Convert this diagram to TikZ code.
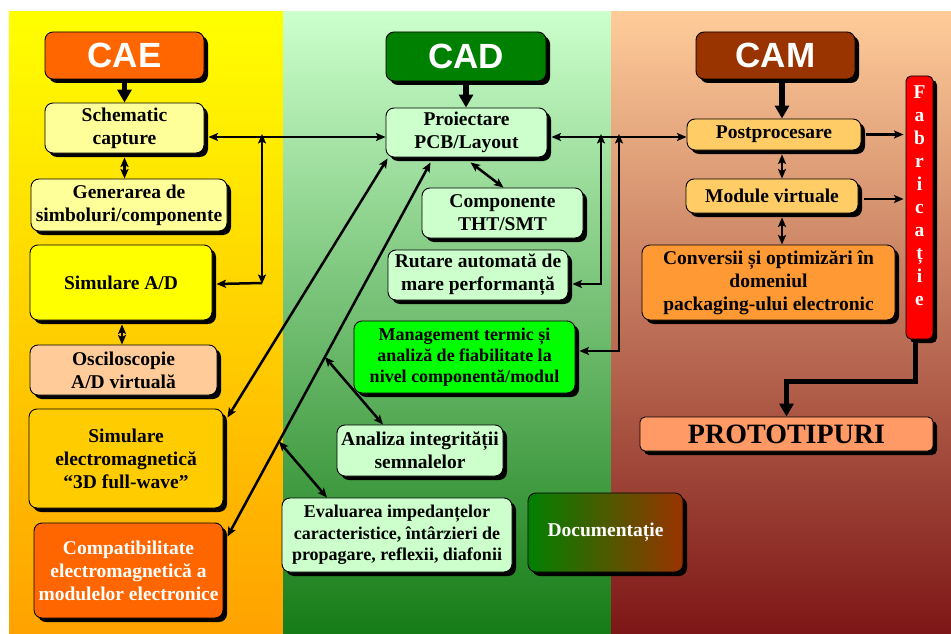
\documentclass[tikz,border=0pt]{standalone}
\usepackage{fontspec}
\setmainfont{Liberation Serif}
\newfontfamily\headfont{Liberation Sans}
\usetikzlibrary{shadows,arrows.meta,calc}
\definecolor{lTop}{RGB}{255,255,0}
\definecolor{lMid}{RGB}{255,212,0}
\definecolor{lBot}{RGB}{255,162,0}
\definecolor{mTop}{RGB}{204,255,204}
\definecolor{mMid}{RGB}{150,200,148}
\definecolor{mBot}{RGB}{22,124,22}
\definecolor{rTop}{RGB}{255,204,153}
\definecolor{rMid}{RGB}{214,156,118}
\definecolor{rBot}{RGB}{125,22,22}
\definecolor{caeC}{RGB}{255,102,0}
\definecolor{cadC}{RGB}{0,128,0}
\definecolor{camC}{RGB}{153,51,0}
\definecolor{paleY}{RGB}{255,255,153}
\definecolor{peach}{RGB}{255,204,153}
\definecolor{goldC}{RGB}{255,204,0}
\definecolor{paleG}{RGB}{204,255,204}
\definecolor{brightG}{RGB}{0,255,0}
\definecolor{lightO}{RGB}{255,204,102}
\definecolor{orangeC}{RGB}{255,153,51}
\definecolor{salmon}{RGB}{255,153,102}
\begin{document}
\begin{tikzpicture}[x=1pt,y=-1pt,
 box/.style={draw=black, line width=0.9pt, rounded corners=8pt, inner sep=0pt, align=center,
   font=\bfseries\fontsize{19.5}{23}\selectfont,
   drop shadow={shadow xshift=4pt, shadow yshift=-4pt, fill=black, opacity=1}},
 sz/.style 2 args={minimum width=#1pt, minimum height=#2pt},
 head/.style={box, text=white, font=\headfont\bfseries\fontsize{35}{40}\selectfont},
 smallfont/.style={font=\bfseries\fontsize{18}{21.3}\selectfont},
 dbl/.style={line width=2.5pt, {Stealth[length=9.5pt,width=8pt,inset=2pt]}-{Stealth[length=9.5pt,width=8pt,inset=2pt]}},
 sgl/.style={line width=2.5pt, -{Stealth[length=9.5pt,width=8pt,inset=2pt]}},
 big/.style={line width=5.5pt, -{Triangle[length=13pt,width=14pt]}}
]
\useasboundingbox (0,0) rectangle (951,634);
\shade[top color=lTop, middle color=lMid, bottom color=lBot] (9,12) rectangle (283,634);
\shade[top color=mTop, middle color=mMid, bottom color=mBot] (283,12) rectangle (611,634);
\shade[top color=rTop, middle color=rMid, bottom color=rBot] (611,12) rectangle (951,634);

% headers
\node[head, fill=caeC, sz={159}{47}] (CAE) at (124.5,55.5) {CAE};
\node[head, fill=cadC, sz={160}{49}] (CAD) at (466,56.5) {CAD};
\node[head, fill=camC, sz={159}{47}] (CAM) at (775.5,55.5) {CAM};

% CAE column
\node[box, fill=paleY, sz={159}{50}] (sch) at (124.5,128) {Schematic\\capture};
\node[box, fill=paleY, sz={196}{52}] (gen) at (129,205) {Generarea de\\simboluri/componente};
\node[box, fill=lTop, sz={182}{75}] (simAD) at (121,282.5) {Simulare A/D};
\node[box, fill=peach, sz={187}{50}] (osc) at (123.5,370) {Osciloscopie\\A/D virtuală};
\node[box, fill=goldC, sz={194}{99}] (simEM) at (126,458.5) {Simulare\\electromagnetică\\“3D full-wave”};
\node[box, fill=caeC, text=white, sz={189}{95}] (compat) at (128.5,570.5) {Compatibilitate\\electromagnetică a\\modulelor electronice};

% CAD column
\node[box, fill=paleG, sz={161}{49}] (proi) at (466.5,132.5) {Proiectare\\PCB/Layout};
\node[box, fill=paleG, sz={161}{50}] (comp) at (502.5,213) {Componente\\THT/SMT};
\node[box, fill=paleG, sz={180}{50}] (rut) at (478,275) {Rutare automată de\\mare performanță};
\node[box, smallfont, fill=brightG, sz={221}{72}] (mgmt) at (464.5,357) {Management termic și\\analiză de fiabilitate la\\nivel componentă/modul};
\node[box, fill=paleG, sz={166}{51}] (anal) at (420,450.5) {Analiza integrității\\semnalelor};
\node[box, smallfont, fill=paleG, sz={230}{74}] (eval) at (397,535) {Evaluarea impedanțelor\\caracteristice, întârzieri de\\propagare, reflexii, diafonii};
\node[box, left color=cadC, right color=camC, text=white, sz={155}{79}] (doc) at (605.5,532.5) {Documentație};

% CAM column
\node[box, fill=lightO, sz={174}{31}] (post) at (774,134.5) {Postprocesare};
\node[box, fill=lightO, sz={172}{34}] (modv) at (772,196) {Module virtuale};
\node[box, fill=orangeC, sz={253}{75}] (conv) at (768.5,282.5) {Conversii și optimizări în\\domeniul\\packaging-ului electronic};
\node[box, fill=red, rounded corners=5pt, sz={27}{263}] (fab) at (919.5,207.5) {};
\node[text=white, align=center, inner sep=0pt, font=\bfseries\fontsize{19.5}{23}\selectfont] (fabt) at (919.5,196) {F\\a\\b\\r\\i\\c\\a\\ț\\i\\e};
\node[box, fill=salmon, rounded corners=5pt, font=\bfseries\fontsize{28}{32}\selectfont, sz={293}{34}] (proto) at (786.5,434) {PROTOTIPURI};

% coordinates of the buses
\coordinate (busL) at (262,137);
\coordinate (turnL) at (262,284);
\coordinate (busR) at (601,137);
\coordinate (turnR) at (601,284);
\coordinate (busR2) at (619,137);
\coordinate (turnR2) at (619,351);

% thick arrows
\draw[big] ([yshift=-4pt]CAE.south) -- (CAE.south |- sch.north);
\draw[big] ([yshift=-4pt]CAD.south) -- (CAD.south |- proi.north);
\draw[big] ([shift={(6.5pt,-4pt)}]CAM.south) -- ([xshift=6.5pt]CAM.south |- post.north);
\draw[line width=5.5pt, -{Triangle[length=13pt,width=14pt]}] ([shift={(-4pt,-2pt)}]fab.south) -- ++(0,40) -| (proto.north);

% vertical short links
\draw[dbl] ([yshift=-4pt]sch.south) -- (sch.south |- gen.north);
\draw[dbl] ([shift={(1pt,-4pt)}]simAD.south) -- ([xshift=1pt]simAD.south |- osc.north);
\draw[dbl] ([shift={(8pt,-4pt)}]post.south) -- ([xshift=8pt]post.south |- modv.north);
\draw[dbl] ([shift={(10pt,-4pt)}]modv.south) -- ([xshift=10pt]modv.south |- conv.north);

% buses
\draw[dbl] ([xshift=4pt]sch.east |- busL) -- (proi.west |- busL);
\draw[dbl] ([yshift=3pt]busL) -- (turnL);
\draw[sgl] ([yshift=1pt]turnL) -- ([xshift=4pt]simAD.east |- turnL);
\draw[dbl] ([xshift=4pt]proi.east |- busR) -- (post.west |- busR);
\draw[dbl] ([yshift=3pt]busR) -- (turnR) -- ([xshift=4pt]rut.east |- turnR);
\draw[dbl] ([yshift=3pt]busR2) -- (turnR2) -- ([xshift=4pt]mgmt.east |- turnR2);

% right arrows to Fabricatie
\draw[sgl] ([xshift=5pt]post.east) -- ([xshift=-2pt]fab.west |- post.east);
\draw[sgl] ([shift={(6pt,-3pt)}]modv.east) -- ([shift={(-2pt,-3pt)}]fab.west |- modv.east);

% diagonals from Proiectare
\draw[dbl] ([shift={(4pt,-5pt)}]proi.south) -- ([xshift=1pt]comp.north);
\coordinate (d1a) at ([shift={(2pt,-1pt)}]proi.south west);
\coordinate (d1b) at ([shift={(4pt,-9pt)}]simEM.north east);
\draw[dbl] (d1a) -- (d1b);
\coordinate (d2a) at ([shift={(-36pt,-5pt)}]proi.south);
\coordinate (d2b) at ([shift={(4pt,-14pt)}]compat.north east);
\draw[dbl] (d2a) -- (d2b);
\coordinate (d2p) at ($(d2a)!0.52!(d2b)$);
\coordinate (d2q) at ($(d2a)!0.746!(d2b)$);
\draw[dbl] (d2p) -- ([xshift=-37pt]anal.north);
\draw[dbl] (d2q) -- ([xshift=-70pt]eval.north);
\end{tikzpicture}
\end{document}
